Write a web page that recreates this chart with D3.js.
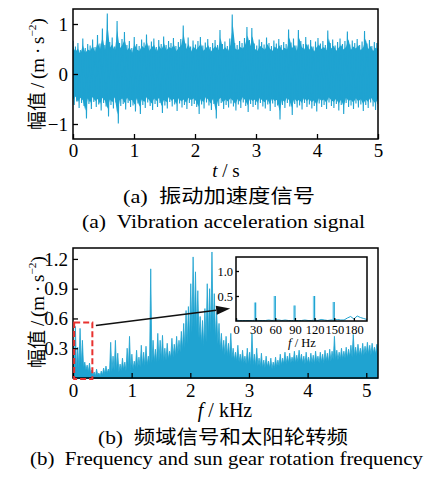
<!DOCTYPE html>
<html><head><meta charset="utf-8">
<script src="https://cdn.jsdelivr.net/npm/d3@7"></script>
<style>body{margin:0;background:#fff}svg{display:block}</style>
</head><body>
<svg id="c" width="425" height="477"></svg>
<script>
// ---- (a) vibration acceleration signal: upper / lower excursions ----
const accHigh = [0.66,0.55,0.62,0.48,0.71,0.52,0.60,0.57,0.69,0.54,0.78,0.61,0.91,0.58,1.21,0.64,0.73,0.55,1.06,0.62,
0.70,0.84,0.58,0.66,0.52,0.74,0.60,0.56,0.69,0.63,0.79,0.57,0.65,0.71,0.54,0.68,0.60,0.75,0.58,0.66,
0.62,0.72,0.56,0.64,0.70,0.97,0.61,0.73,0.55,0.67,0.59,0.66,0.74,0.57,0.63,0.70,0.54,0.62,0.68,0.58,
0.88,0.60,0.65,0.56,0.71,1.19,0.62,0.58,0.66,0.62,0.72,0.94,0.68,0.92,0.61,0.57,0.69,0.64,0.59,0.73,
0.62,0.56,0.67,0.61,0.70,0.58,0.64,0.60,0.89,0.63,0.71,0.57,0.88,0.66,0.60,0.74,0.59,0.68,0.55,0.65,
0.72,0.61,0.66,0.58,0.87,0.62,0.69,0.57,0.64,0.71,0.60,0.66,0.85,0.59,0.67,0.62,0.70,0.58,0.65,0.86,
0.61,0.68,0.56,0.64,0.62];
const accLow = [-0.62,-0.55,-0.68,-0.58,-0.64,-0.89,-0.60,-0.70,-0.56,-0.66,-0.61,-0.73,-0.58,-0.65,-0.85,-0.62,-0.69,-0.57,-0.99,-0.64,
-0.60,-0.71,-0.58,-0.66,-0.63,-0.75,-0.59,-0.80,-0.62,-0.68,-0.57,-0.64,-0.72,-0.60,-0.66,-0.58,-0.78,-0.63,-0.69,-0.56,
-0.65,-0.61,-0.74,-0.59,-0.67,-0.62,-0.70,-0.58,-0.64,-0.60,-0.66,-0.80,-0.61,-0.69,-0.57,-0.63,-0.72,-0.60,-0.89,-0.64,
-0.58,-0.70,-0.62,-0.67,-0.59,-0.65,-0.73,-0.61,-0.68,-0.57,-0.64,-0.76,-0.60,-0.66,-0.62,-0.71,-0.58,-0.65,-0.69,-0.61,
-0.74,-0.59,-0.66,-0.63,-0.91,-0.62,-0.68,-0.58,-0.65,-0.82,-0.60,-0.67,-0.63,-0.71,-0.58,-0.66,-0.61,-0.69,-0.64,-0.75,
-0.59,-0.66,-0.62,-0.70,-0.57,-0.64,-0.68,-0.60,-0.73,-0.62,-0.80,-0.58,-0.66,-0.63,-0.70,-0.59,-0.67,-0.61,-0.74,-0.62,
-0.68,-0.57,-0.65,-0.72,-0.60];
const accTimeTicks = [0,1,2,3,4,5];
const accAmpTicks = [-1,0,1];

// ---- (b) spectrum: peak and floor per 0.04 kHz bin, 0–5.2 kHz ----
const specHigh = [0.37,0.52,0.31,0.50,0.38,0.16,0.13,0.15,0.08,0.06,0.09,0.05,0.07,0.10,0.12,0.09,0.36,0.22,0.38,0.25,
0.14,0.20,0.16,0.30,0.42,0.24,0.17,0.28,0.21,0.33,0.26,0.32,0.22,1.10,0.38,0.29,0.45,0.38,0.43,0.30,
0.35,0.27,0.40,0.34,0.42,0.38,0.47,0.55,0.68,0.72,0.95,1.22,1.07,0.88,0.62,0.58,0.70,0.95,0.90,1.27,
0.85,0.66,0.55,0.45,0.38,0.42,0.35,0.45,0.30,0.26,0.33,0.24,0.28,0.22,0.30,0.26,0.45,0.24,0.30,0.20,
0.25,0.18,0.22,0.17,0.20,0.16,0.21,0.18,0.24,0.20,0.26,0.22,0.25,0.21,0.27,0.23,0.28,0.24,0.22,0.26,
0.21,0.25,0.23,0.27,0.22,0.26,0.24,0.28,0.25,0.29,0.27,0.42,0.28,0.26,0.30,0.27,0.31,0.29,0.33,0.44,
0.31,0.34,0.30,0.35,0.32,0.36,0.33,0.35,0.31,0.34];
const specLow = [0.05,0.08,0.10,0.12,0.10,0.08,0.06,0.05,0.03,0.02,0.03,0.02,0.03,0.04,0.05,0.05,0.06,0.07,0.07,0.06,
0.07,0.08,0.07,0.09,0.08,0.09,0.10,0.10,0.11,0.12,0.12,0.13,0.14,0.15,0.16,0.15,0.17,0.18,0.17,0.18,
0.19,0.20,0.21,0.22,0.24,0.26,0.28,0.30,0.34,0.38,0.45,0.50,0.46,0.40,0.34,0.32,0.36,0.42,0.45,0.48,
0.40,0.34,0.28,0.25,0.23,0.22,0.21,0.20,0.18,0.17,0.16,0.15,0.15,0.14,0.14,0.13,0.13,0.12,0.12,0.11,
0.10,0.10,0.11,0.10,0.09,0.10,0.11,0.12,0.13,0.14,0.14,0.15,0.15,0.16,0.15,0.16,0.16,0.15,0.14,0.15,
0.14,0.15,0.14,0.16,0.15,0.16,0.15,0.17,0.16,0.17,0.18,0.18,0.18,0.19,0.19,0.20,0.20,0.21,0.21,0.22,
0.22,0.23,0.22,0.23,0.24,0.24,0.23,0.25,0.24,0.25];
const specFreqTicks = [0,1,2,3,4,5];
const specAmpTicks = [0.3,0.6,0.9,1.2];

// ---- inset: 0–200 Hz, sun gear rotation frequency and harmonics ----
const insetPeakFreq = [30,60,90,120,150];
const insetPeakAmp = [0.37,0.50,0.31,0.50,0.38];
const insetFloorFreq = [0,5,10,15,20,25,30,35,40,45,50,55,60,65,70,75,80,85,90,95,100,105,110,115,120,125,130,135,140,145,150,155,160,165,170,175,180,185,190,195,200];
const insetFloor = [0.02,0.01,0.01,0.01,0.01,0.01,0.02,0.01,0.01,0.01,0.02,0.01,0.02,0.02,0.01,0.02,0.01,0.01,0.01,0.01,0.01,0.02,0.01,0.01,0.02,0.01,0.03,0.02,0.01,0.02,0.02,0.03,0.02,0.02,0.06,0.09,0.04,0.10,0.07,0.05,0.03];
const insetFreqTicks = [0,30,60,90,120,150,180];
const insetAmpTicks = [0.5,1.0];
const zoomBox = {f0:0.02, f1:0.33, a0:-0.01, a1:0.56};
const arrowFrom = {f:0.39, a:0.53}, arrowTo = {f:2.68, a:0.70};

const BLUE = "#1fa3d1", LIGHT = "#7fd0ec";
const SERIF = "'Liberation Serif','Times New Roman',serif";
const MIX = "'Liberation Serif','Noto Sans CJK SC',serif";
const svg = d3.select("#c");

function styleAxis(g, fs) {
  g.select(".domain").remove();
  g.selectAll(".tick line").attr("stroke", "#000").attr("stroke-width", 1.3);
  g.selectAll(".tick text").attr("font-family", SERIF).attr("font-size", fs).attr("fill", "#000");
}
function yTitle(cx, cy, fs) {
  const t = svg.append("text").attr("transform", `translate(${cx},${cy}) rotate(-90)`)
    .attr("text-anchor", "middle").attr("font-size", fs).attr("fill", "#000");
  t.append("tspan").attr("font-family", "'Noto Sans CJK SC'").text("幅值");
  t.append("tspan").attr("font-family", SERIF).text("\u2009/\u2009(m\u2009·\u2009s");
  t.append("tspan").attr("font-family", SERIF).attr("font-size", fs * 0.6).attr("dy", -fs * 0.42).text("−2");
  t.append("tspan").attr("font-family", SERIF).attr("dy", fs * 0.42).text(")");
}
function xTitle(cx, y, v, unit, fs) {
  const t = svg.append("text").attr("x", cx).attr("y", y).attr("text-anchor", "middle")
    .attr("font-family", SERIF).attr("font-size", fs).attr("fill", "#000");
  t.append("tspan").attr("font-style", "italic").text(v);
  t.append("tspan").text(" / " + unit);
}
function caption(cx, y, txt, w, fs) {
  svg.append("text").attr("x", cx).attr("y", y).attr("text-anchor", "middle")
    .attr("font-family", MIX).attr("font-size", fs).attr("fill", "#000")
    .attr("textLength", w).attr("lengthAdjust", "spacingAndGlyphs").text(txt);
}

// ================= (a) =================
const xa = d3.scaleLinear().domain([0, 5]).range([73, 378]);
const ya = d3.scaleLinear().domain([-1.3, 1.3]).range([139, 9]);
svg.append("clipPath").attr("id", "ca").append("rect").attr("x", 73).attr("y", 9).attr("width", 305).attr("height", 130);
const pairT = accHigh.map((_, i) => 5 * i / (accHigh.length - 1));
// solid core band between consecutive excursions
svg.append("path").attr("clip-path", "url(#ca)")
  .attr("d", d3.area().x((d, i) => xa(pairT[i])).y0((d, i) => ya(accLow[i] * 0.82)).y1(d => ya(d * 0.82))(accHigh))
  .attr("fill", BLUE);
// oscillating trace
const accSeries = [];
accHigh.forEach((h, i) => { accSeries.push(h); accSeries.push(accLow[i]); });
const accT = accSeries.map((_, k) => 5 * k / (accSeries.length - 1));
svg.append("path").attr("clip-path", "url(#ca)")
  .attr("d", d3.line().x((d, k) => xa(accT[k])).y(d => ya(d))(accSeries))
  .attr("fill", "none").attr("stroke", BLUE).attr("stroke-width", 1.1);
svg.append("g").attr("transform", "translate(0,139)")
  .call(d3.axisBottom(xa).tickValues(accTimeTicks).tickFormat(d3.format("d")).tickSize(-5).tickPadding(5))
  .call(g => styleAxis(g, 19));
svg.append("g").attr("transform", "translate(73,0)")
  .call(d3.axisLeft(ya).tickValues(accAmpTicks).tickFormat(d3.format("d")).tickSize(-5).tickPadding(5))
  .call(g => styleAxis(g, 19));
svg.append("rect").attr("x", 73).attr("y", 9).attr("width", 305).attr("height", 130)
  .attr("fill", "none").attr("stroke", "#000").attr("stroke-width", 1.5);
yTitle(44, 74, 19);
xTitle(226, 177, "t", "s", 19);
caption(219, 203, "(a)\u2002振动加速度信号", 192, 19);
caption(223.5, 228, "(a)\u2002Vibration acceleration signal", 283, 19);

// ================= (b) =================
const xb = d3.scaleLinear().domain([0, 5.2]).range([73, 378]);
const yb = d3.scaleLinear().domain([0, 1.31]).range([378, 248]);
svg.append("clipPath").attr("id", "cb").append("rect").attr("x", 73).attr("y", 248).attr("width", 305).attr("height", 131);
const specSeries = [];
specHigh.forEach((h, i) => { specSeries.push(h); specSeries.push(specLow[i]); });
const specF = specSeries.map((_, k) => 5.2 * k / (specSeries.length - 1));
svg.append("path").attr("clip-path", "url(#cb)")
  .attr("d", d3.area().x((d, k) => xb(specF[k])).y0(yb(-0.02)).y1(d => yb(d))(specSeries))
  .attr("fill", BLUE).attr("stroke", BLUE).attr("stroke-width", 0.8);
svg.append("g").attr("transform", "translate(0,378)")
  .call(d3.axisBottom(xb).tickValues(specFreqTicks).tickFormat(d3.format("d")).tickSize(-5).tickPadding(6))
  .call(g => styleAxis(g, 19));
svg.append("g").attr("transform", "translate(73,0)")
  .call(d3.axisLeft(yb).tickValues(specAmpTicks).tickFormat(d3.format(".1f")).tickSize(-5).tickPadding(5))
  .call(g => styleAxis(g, 19));
svg.append("rect").attr("x", 73).attr("y", 248).attr("width", 305).attr("height", 130)
  .attr("fill", "none").attr("stroke", "#000").attr("stroke-width", 1.5);

// zoom box + arrow
svg.append("rect").attr("x", xb(zoomBox.f0)).attr("y", yb(zoomBox.a1))
  .attr("width", xb(zoomBox.f1) - xb(zoomBox.f0)).attr("height", yb(zoomBox.a0) - yb(zoomBox.a1))
  .attr("fill", "none").attr("stroke", "#e8322f").attr("stroke-width", 2).attr("stroke-dasharray", "6,3");
(function () {
  const x1 = xb(arrowFrom.f), y1 = yb(arrowFrom.a), x2 = xb(arrowTo.f), y2 = yb(arrowTo.a);
  const ang = Math.atan2(y2 - y1, x2 - x1), L = 14, W = 4.5;
  const bx = x2 - L * Math.cos(ang), by = y2 - L * Math.sin(ang);
  svg.append("line").attr("x1", x1).attr("y1", y1).attr("x2", bx).attr("y2", by)
    .attr("stroke", "#111").attr("stroke-width", 1.5);
  const px = -Math.sin(ang) * W, py = Math.cos(ang) * W;
  svg.append("path").attr("d", `M${x2},${y2}L${bx + px},${by + py}L${bx - px},${by - py}Z`).attr("fill", "#111");
})();

// inset
const xi = d3.scaleLinear().domain([0, 200]).range([236, 367]);
const yi = d3.scaleLinear().domain([0, 1.28]).range([321, 257]);
svg.append("rect").attr("x", 236).attr("y", 257).attr("width", 131).attr("height", 64).attr("fill", "#fff");
svg.append("path").attr("d", d3.line().x((d, k) => xi(insetFloorFreq[k])).y(d => yi(d))(insetFloor))
  .attr("fill", "none").attr("stroke", BLUE).attr("stroke-width", 1);
svg.selectAll(".ipk").data(insetPeakFreq).enter().append("line")
  .attr("x1", d => xi(d) - 1).attr("x2", d => xi(d) - 1).attr("y1", yi(0)).attr("y2", (d, i) => yi(insetPeakAmp[i]))
  .attr("stroke", LIGHT).attr("stroke-width", 1.5);
svg.selectAll(".ipk2").data(insetPeakFreq).enter().append("line")
  .attr("x1", d => xi(d)).attr("x2", d => xi(d)).attr("y1", yi(0)).attr("y2", (d, i) => yi(insetPeakAmp[i]))
  .attr("stroke", BLUE).attr("stroke-width", 1.2);
svg.append("g").attr("transform", "translate(0,321)")
  .call(d3.axisBottom(xi).tickValues(insetFreqTicks).tickFormat(d3.format("d")).tickSize(-3).tickPadding(4))
  .call(g => styleAxis(g, 12.5));
svg.append("g").attr("transform", "translate(236,0)")
  .call(d3.axisLeft(yi).tickValues(insetAmpTicks).tickFormat(d3.format(".1f")).tickSize(-3).tickPadding(3))
  .call(g => styleAxis(g, 12.5));
svg.append("rect").attr("x", 236).attr("y", 257).attr("width", 131).attr("height", 64)
  .attr("fill", "none").attr("stroke", "#000").attr("stroke-width", 1.5);
xTitle(302, 347, "f", "Hz", 12.5);

yTitle(44, 312, 19);
xTitle(225, 417, "f", "kHz", 20);
caption(223, 444, "(b)\u2002频域信号和太阳轮转频", 250, 19);
caption(226.5, 465, "(b)\u2002Frequency and sun gear rotation frequency", 393, 19);
</script>
</body></html>
